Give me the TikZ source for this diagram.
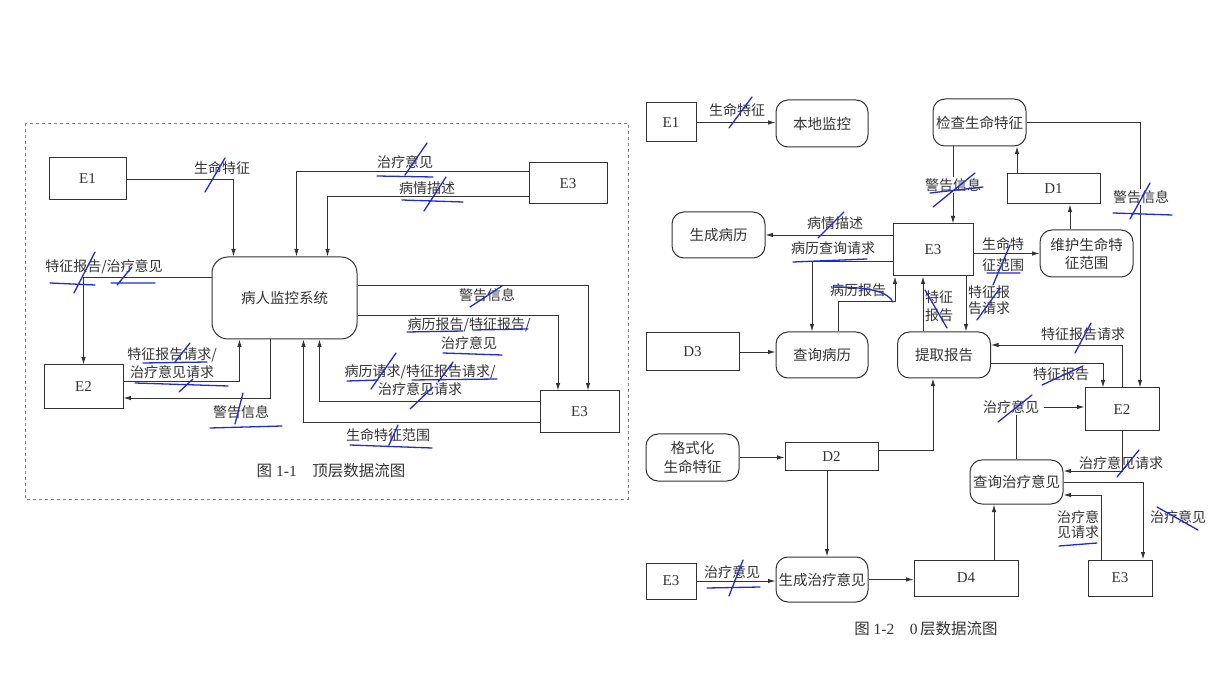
\documentclass[tikz,border=0pt]{standalone}
\usepackage{fontspec}
\setmainfont{Liberation Serif}
\newfontfamily\cjk{Noto Sans CJK SC}
\usetikzlibrary{arrows.meta,positioning,calc}
\definecolor{inkgray}{HTML}{333333}
\definecolor{penblue}{HTML}{1F2BD6}

\begin{document}
\begin{tikzpicture}[x=1pt, y=-1pt]
    \tikzstyle{ent} = [rectangle, draw=inkgray, line width=1pt, text=inkgray, font=\fontsize{15}{17}\selectfont, inner sep=0pt]
    \tikzstyle{proc} = [rectangle, rounded corners=12pt, draw=inkgray, line width=1pt, text=inkgray, font=\cjk\fontsize{14.5}{18}\selectfont, align=center, inner sep=0pt]
    \tikzstyle{lbl} = [text=inkgray, font=\cjk\fontsize{14}{17}\selectfont, align=center, inner sep=1pt]
    \tikzstyle{figcaption} = [text=inkgray, font=\fontsize{15.5}{18}\selectfont, inner sep=0pt]
    \tikzstyle{arr} = [line width=0.9pt, draw=inkgray, -{Latex[length=7.5pt, width=4.5pt]}]
    \tikzstyle{scribble} = [draw=penblue, line width=1.3pt, line cap=round]

    \useasboundingbox (0,0) rectangle (1216,684);
    \draw [dashed, draw=gray, line width=0.6pt] (25,123) rectangle (628,499);

    % top level
    \node [ent, minimum width=77pt, minimum height=42pt] (e1L) at (87.5,179) {E1};
    \node [proc, rounded corners=16pt, minimum width=145pt, minimum height=82pt] (sys) at (284.5,298) {病人监控系统};
    \node [ent, minimum width=78pt, minimum height=41pt] (e3La) at (568,183.5) {E3};
    \node [ent, minimum width=79pt, minimum height=44pt] (e2L) at (83.5,387) {E2};
    \node [ent, minimum width=79pt, minimum height=42pt] (e3Lb) at (579.5,412) {E3};

    \draw [arr] (e1L.east) -| ([xshift=22pt]sys.north west);
    \draw [arr] ([yshift=12.5pt]e3La.west) -| ([xshift=85pt]sys.north west);
    \draw [arr] ([yshift=-12.5pt]e3La.west) -| ([xshift=116pt]sys.north west);
    \draw [arr] ([yshift=21pt]sys.west) -| (e2L.north);
    \draw [arr] ([yshift=6pt]e2L.east) -| ([xshift=28pt]sys.south west);
    \draw [arr] ([xshift=59pt]sys.south west) |- ([yshift=-11pt]e2L.east);
    \draw [arr] ([yshift=13pt]sys.east) -| ([xshift=8.5pt]e3Lb.north);
    \draw [arr] ([yshift=-17pt]sys.east) -| ([xshift=-21.5pt]e3Lb.north);
    \draw [arr] ([yshift=11pt]e3Lb.west) -| ([xshift=108pt]sys.south west);
    \draw [arr] ([yshift=-10pt]e3Lb.west) -| ([xshift=92pt]sys.south west);

    \node [lbl] (tVital) at (222,168) {生命特征};
    \node [lbl] (tAdvice) at (405,162) {治疗意见};
    \node [lbl] (tDesc) at (427,188) {病情描述};
    \node [lbl] (tRepAdv) at (104,267) {特征报告/治疗意见};
    \node [lbl, font=\cjk\fontsize{14}{18}\selectfont] (tReqE2) at (172,363) {特征报告请求/\\治疗意见请求};
    \node [lbl] (tWarnE2) at (241,412) {警告信息};
    \node [lbl] (tWarnE3) at (487,295) {警告信息};
    \node [lbl, font=\cjk\fontsize{14}{19}\selectfont] (tRepE3) at (469,333.5) {病历报告/特征报告/\\治疗意见};
    \node [lbl, font=\cjk\fontsize{14}{18}\selectfont] (tReqE3) at (420,380) {病历请求/特征报告请求/\\治疗意见请求};
    \node [lbl] (tRange) at (388,435) {生命特征范围};
    \node [figcaption] (capL) at (331,471) {{\cjk 图} 1-1\quad{\cjk 顶层数据流图}};

    % level 0
    \node [ent, minimum width=50pt, minimum height=39pt] (e1R) at (671,122.5) {E1};
    \node [proc, minimum width=92pt, minimum height=47pt] (local) at (822,123.5) {本地监控};
    \node [proc, minimum width=93pt, minimum height=47pt] (check) at (979.5,122.5) {检查生命特征};
    \node [proc, minimum width=93pt, minimum height=46pt] (genrec) at (718.5,235) {生成病历};
    \node [ent, minimum width=80pt, minimum height=52pt] (e3R) at (933,250) {E3};
    \node [ent, minimum width=93pt, minimum height=30pt] (d1) at (1053.5,189) {D1};
    \node [proc, minimum width=93pt, minimum height=47pt] (maint) at (1086.5,253.5) {维护生命特\\征范围};
    \node [ent, minimum width=93pt, minimum height=38pt] (d3) at (692.5,352) {D3};
    \node [proc, minimum width=92pt, minimum height=46pt] (query) at (822,355) {查询病历};
    \node [proc, minimum width=93pt, minimum height=46pt] (extract) at (944,355) {提取报告};
    \node [ent, minimum width=74pt, minimum height=43pt] (e2R) at (1122,409.5) {E2};
    \node [proc, minimum width=93pt, minimum height=47pt, font=\cjk\fontsize{14.5}{19}\selectfont] (fmt) at (692.5,457.5) {格式化\\生命特征};
    \node [ent, minimum width=93pt, minimum height=28pt] (d2) at (831.5,457) {D2};
    \node [proc, minimum width=93pt, minimum height=44pt] (qtreat) at (1016.5,482) {查询治疗意见};
    \node [ent, minimum width=50pt, minimum height=36pt] (e3Rl) at (671,581) {E3};
    \node [proc, minimum width=92pt, minimum height=45pt] (gentreat) at (822,579.5) {生成治疗意见};
    \node [ent, minimum width=104pt, minimum height=36pt] (d4) at (966,578) {D4};
    \node [ent, minimum width=64pt, minimum height=36pt] (e3Rr) at (1120,578) {E3};

    \draw [arr] (e1R.east) -- (e1R.east -| local.west);
    \draw [arr] ([xshift=-26.5pt]check.south) -- ([xshift=20pt]e3R.north);
    \draw [arr] ([xshift=-36.5pt]d1.north) -- ([xshift=37.5pt]check.south);
    \draw [arr] ([xshift=-16.5pt]maint.north) -- ([xshift=16.5pt]d1.south);
    \draw [arr] ([yshift=-3.5pt]e3R.east) -- (maint.west);
    \draw [arr] (check.east) -| ([xshift=18pt]e2R.north);
    \draw [arr] ([yshift=15pt]e3R.west) -- (genrec.east);
    \draw [arr] ([yshift=-11pt]e3R.west) -| ([xshift=-10pt]query.north);
    \draw [arr] ([xshift=16pt]query.north) -- ++(0,-30) -| ([xshift=-38pt]e3R.south);
    \draw [arr] ([xshift=-21pt]extract.north) -- ([xshift=-10pt]e3R.south);
    \draw [arr] ([xshift=33pt]e3R.south) -- ([xshift=22pt]extract.north);
    \draw [arr] (d3.east) -- (d3.east -| query.west);
    \draw [arr] (e2R.north) |- ([yshift=10pt]extract.east);
    \draw [arr] ([yshift=-8pt]extract.east) -| ([xshift=-19pt]e2R.north);
    \draw [arr] (qtreat.north) |- ([yshift=2.5pt]e2R.west);
    \draw [arr] (e2R.south) |- ([yshift=11pt]qtreat.east);
    \draw [arr] (qtreat.east) -| ([xshift=23pt]e3Rr.north);
    \draw [arr] ([xshift=-19pt]e3Rr.north) |- ([yshift=-13pt]qtreat.east);
    \draw [arr] ([xshift=28pt]d4.north) -- ([xshift=-22.5pt]qtreat.south);
    \draw [arr] (gentreat.east) -- (gentreat.east -| d4.west);
    \draw [arr] (e3Rl.east) -- (e3Rl.east -| gentreat.west);
    \draw [arr] (fmt.east) -- (fmt.east -| d2.west);
    \draw [arr] ([xshift=-4.5pt]d2.south) -- ([xshift=5pt]gentreat.north);
    \draw [arr] ([yshift=7pt]d2.east) -| ([xshift=-11pt]extract.south);

    \node [lbl] (rVital) at (737,110) {生命特征};
    \node [lbl] (rDesc) at (835,223) {病情描述};
    \node [lbl] (rQuery) at (833,248) {病历查询请求};
    \node [lbl, fill=white] (rWarnA) at (953,185) {警告信息};
    \node [lbl, fill=white] (rWarnB) at (1141,197) {警告信息};
    \node [lbl, font=\cjk\fontsize{14}{21}\selectfont] (rRange) at (1003,254.5) {生命特\\征范围};
    \node [lbl] (rRecRep) at (858,290) {病历报告};
    \node [lbl, font=\cjk\fontsize{14}{18}\selectfont] (rRep) at (939,306) {特征\\报告};
    \node [lbl, font=\cjk\fontsize{14}{16}\selectfont] (rRepReq) at (989,300) {特征报\\告请求};
    \node [lbl] (rRepReqE2) at (1083,334) {特征报告请求};
    \node [lbl] (rRepE2) at (1061,374) {特征报告};
    \node [lbl, fill=white, inner xsep=5pt] (rAdvE2) at (1011,407) {治疗意见};
    \node [lbl] (rAdvReqE2) at (1121,463) {治疗意见请求};
    \node [lbl] (rAdvE3) at (1178,517) {治疗意见};
    \node [lbl, font=\cjk\fontsize{14}{15}\selectfont] (rAdvReqE3) at (1078,524.5) {治疗意\\见请求};
    \node [lbl] (rAdvIn) at (732,572) {治疗意见};
    \node [figcaption] (capR) at (926,629) {{\cjk 图} 1-2\quad 0\,{\cjk 层数据流图}};

    % pen marks
    \draw [scribble] (205,192) -- (225,158);
    \draw [scribble] (50,283) -- (95,285) (74,293) -- (95,252);
    \draw [scribble] (111,283) -- (155,283) (117,285) -- (132,267);
    \draw [scribble] (377,176) -- (433,177) (405,175) -- (427,143);
    \draw [scribble] (402,200) -- (463,202) (424,211) -- (446,177);
    \draw [scribble] (470,307) -- (502,286);
    \draw [scribble] (143,363) -- (207,362) (175,362) -- (190,343);
    \draw [scribble] (135,383) -- (228,386) (179,392) -- (193,379);
    \draw [scribble] (210,428) -- (282,426) (235,424) -- (243,393);
    \draw [scribble] (407,332) -- (463,331) (473,330) -- (528,329) (443,353) -- (502,355);
    \draw [scribble] (347,381) -- (378,380) (371,389) -- (396,353) (412,380) -- (497,379) (438,382) -- (453,362) (410,409) -- (433,387);
    \draw [scribble] (350,445) -- (432,448) (389,445) -- (398,425);
    \draw [scribble] (729,128) -- (752,97);
    \draw [scribble] (818,238) -- (844,212);
    \draw [scribble] (793,262) -- (867,259);
    \draw [scribble] (930,193) -- (983,187) (933,207) -- (975,173);
    \draw [scribble] (1113,213) -- (1172,215) (1130,219) -- (1150,183);
    \draw [scribble] (987,273) -- (1020,273) (993,285) -- (1010,245);
    \draw [scribble] (833,287) .. controls (870,287) and (888,292) .. (893,302);
    \draw [scribble] (925,290) -- (947,328);
    \draw [scribble] (977,320) -- (1000,288);
    \draw [scribble] (1075,353) -- (1091,323);
    \draw [scribble] (1042,385) -- (1083,366);
    \draw [scribble] (998,422) -- (1032,395);
    \draw [scribble] (1117,477) -- (1139,450);
    \draw [scribble] (1157,507) -- (1198,530);
    \draw [scribble] (1059,546) -- (1097,543);
    \draw [scribble] (707,588) -- (760,587) (729,596) -- (743,560);
\end{tikzpicture}
\end{document}
